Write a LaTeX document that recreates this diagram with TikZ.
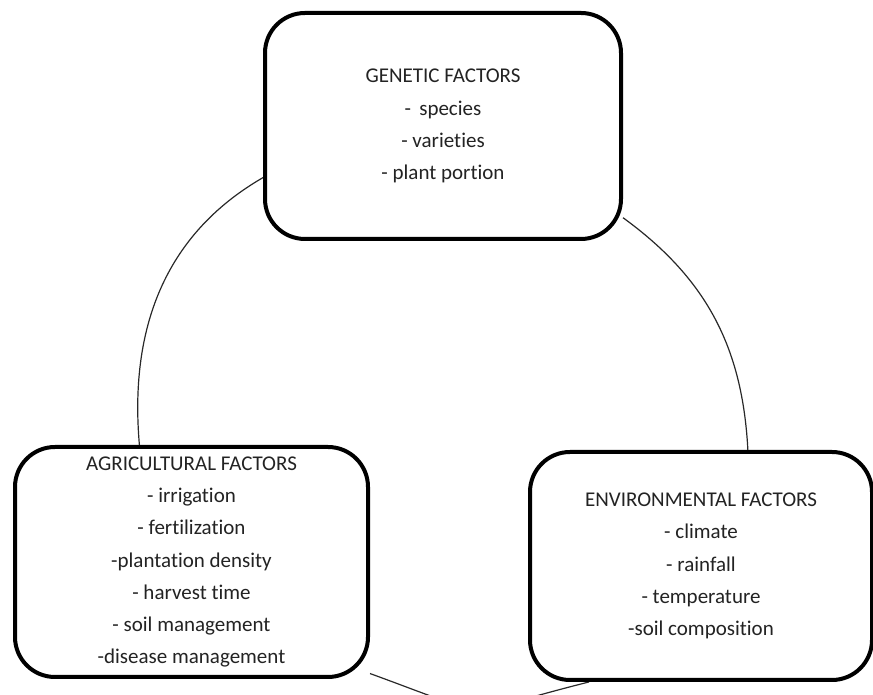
\documentclass[tikz,border=0pt]{standalone}
\usepackage{fontspec}
\setmainfont{Carlito}[Ligatures=NoCommon]
\usetikzlibrary{backgrounds}
\definecolor{cBorder}{RGB}{0,0,0}
\definecolor{cText}{RGB}{35,35,35}
\definecolor{cLink}{RGB}{40,40,40}

\begin{document}
\begin{tikzpicture}[x=0.5pt, y=0.5pt, font=\fontsize{10.5}{16.1}\selectfont,
  factorbox/.style={draw=cBorder, line width=2pt, rounded corners=20pt,
    fill=white, align=center, text=cText, inner sep=0pt},
  link/.style={cLink, line width=0.6pt}]
  \useasboundingbox (0,0) rectangle (873,695);
  \node[factorbox, minimum width=178pt, minimum height=113pt] (gen) at (443,569)
    {GENETIC FACTORS\\- \,species\\- varieties\\- plant portion};
  \node[factorbox, minimum width=176.5pt, minimum height=115pt] (agr) at (191.5,133)
    {AGRICULTURAL FACTORS\\- irrigation\\- fertilization\\-plantation density\\- harvest time\\- soil management\\-disease management};
  \node[factorbox, minimum width=171pt, minimum height=114pt] (env) at (701,129)
    {ENVIRONMENTAL FACTORS\\- climate\\- rainfall\\- temperature\\-soil composition};
  \begin{scope}[on background layer]
    \draw[link] (gen.196) to[out=210, in=95] (agr.114);
    \draw[link] (gen.-27) to[out=-36, in=93] (env.68);
    \draw[link] (agr.-32) to[out=-20, in=194, looseness=1.6] (env.226);
  \end{scope}
\end{tikzpicture}
\end{document}
